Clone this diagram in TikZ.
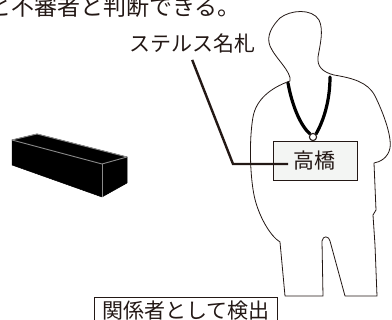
\documentclass[tikz,border=0pt]{standalone}
\usepackage{fontspec}
\newfontfamily\jp{Noto Sans CJK JP}
\definecolor{ink}{HTML}{231815}
\definecolor{tagfill}{HTML}{F3F5F3}
\definecolor{rim}{HTML}{8A8A8A}
\tikzset{
  jptext/.style={font=\jp\fontsize{21pt}{21pt}\selectfont, text=ink, inner sep=0pt},
  outline/.style={draw=ink, line width=0.8pt, fill=white, line join=round},
  lanyard/.style={draw=black, line width=3.2pt, line cap=round},
  pointer/.style={draw=ink, line width=2.4pt},
  tagbox/.style={jptext, draw=ink, line width=0.9pt, fill=tagfill},
  labelbox/.style={jptext, draw=ink, line width=0.9pt, fill=white},
  solid block/.style={fill=black, draw=black, line width=0.5pt, line join=round},
  block edge/.style={draw=rim, line width=0.9pt, line join=round}
}
\begin{document}
\begin{tikzpicture}[x=1pt, y=-1pt]
\useasboundingbox (0,0) rectangle (392,320);
\clip (0,0) rectangle (392,320);

% caption running off the top edge
\node[jptext, font=\jp\fontsize{23pt}{23pt}\selectfont, anchor=base west] (caption) at (-12,15.5) {と不審者と判断できる。};

% black block
\path[solid block] (12,140) -- (37,134) -- (127,157) -- (127,183) -- (102,197) -- (12,165) -- cycle;
\draw[block edge] (12,140) -- (37,134) -- (127,157) -- (102,164) -- cycle;
\draw[block edge] (102,164) -- (102,197);

% person silhouette
\draw[outline] (285,296) -- (280,242)
  .. controls (270,236) and (258,215) .. (254,195)
  .. controls (250,175) and (249,140) .. (253,117)
  .. controls (256,100) and (270,88) .. (290,81)
  .. controls (292,72) and (275,58) .. (270,46)
  .. controls (266,36) and (272,26) .. (280,18)
  .. controls (290,10) and (312,8) .. (319,20)
  .. controls (324,30) and (320,45) .. (318,57)
  .. controls (317,66) and (322,72) .. (334,75)
  .. controls (352,78) and (368,82) .. (375,96)
  .. controls (382,110) and (392,135) .. (390,148)
  .. controls (388,158) and (380,162) .. (374,163)
  -- (376,210) -- (373,215) -- (375,245) -- (377,296)
  -- (345,296) -- (330,241)
  .. controls (329,236) and (323,235) .. (322,241)
  -- (323,296) -- cycle;

% lanyard and ring
\coordinate (ring) at (313,137);
\draw[lanyard] (288,83) .. controls (292,105) and (300,125) .. (310,134);
\draw[lanyard] (330,77) .. controls (330,100) and (324,120) .. (316,134);
\draw[draw=rim, line width=1.2pt, fill=white] (ring) circle (3.6pt);
\draw[draw=ink, line width=0.8pt] (ring) circle (3.6pt);

% name tag
\node[tagbox, minimum width=84pt, minimum height=39pt] (tag) at (315,160.5) {高橋};

% label and its leader
\node[jptext, anchor=base west] (label) at (129,52) {ステルス名札};
\coordinate (bend) at (233,164);
\coordinate (tagend) at (288,164);
\draw[pointer] ([yshift=-6pt]label.south) -- (bend) -- (tagend);

% detection result
\node[labelbox, anchor=north west, minimum width=183pt, text height=17pt, text depth=4pt, inner ysep=4.5pt] (result) at (94,297) {関係者として検出};
\end{tikzpicture}
\end{document}
